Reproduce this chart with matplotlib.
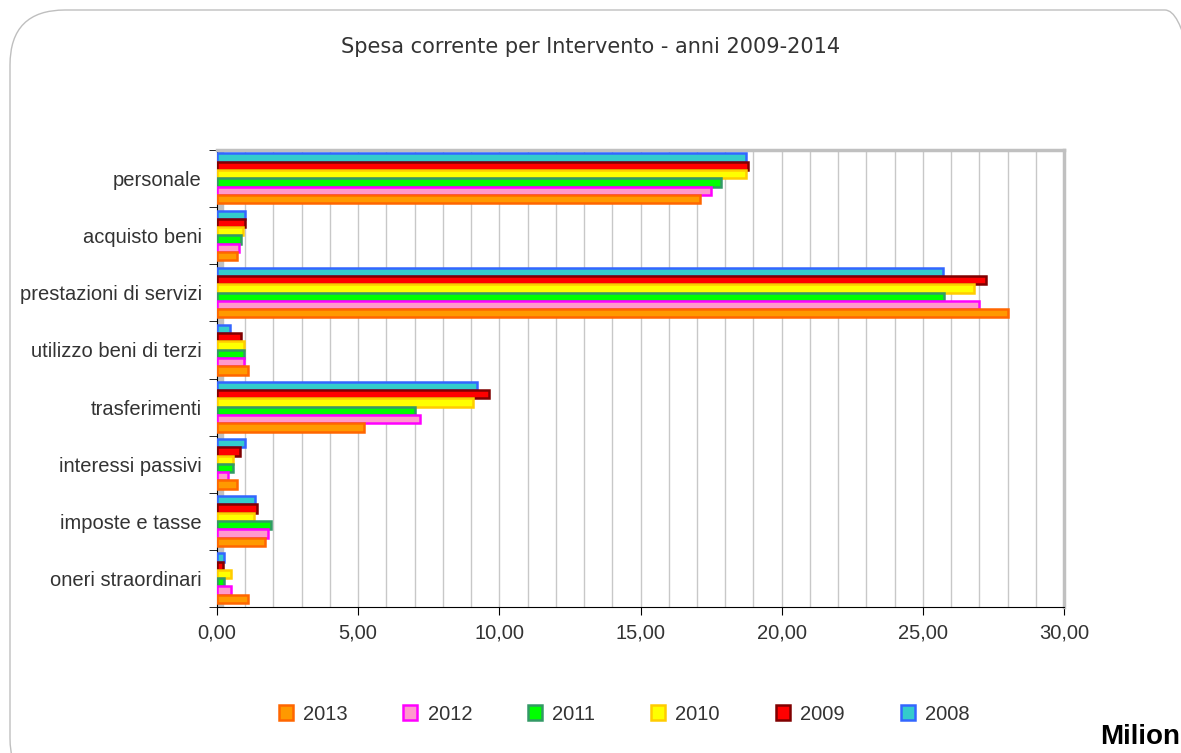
import numpy as np
import matplotlib.pyplot as plt
from matplotlib.patches import Patch, FancyBboxPatch
from matplotlib.ticker import FuncFormatter, MultipleLocator

plt.rcParams['font.family'] = ['Liberation Sans', 'DejaVu Sans']

# Dati (milioni di euro)
categorie = ['personale', 'acquisto beni', 'prestazioni di servizi',
             'utilizzo beni di terzi', 'trasferimenti', 'interessi passivi',
             'imposte e tasse', 'oneri straordinari']
anni = ['2008', '2009', '2010', '2011', '2012', '2013']

v2008 = [18.75, 1.00, 25.70, 0.45, 9.20, 1.00, 1.35, 0.25]
v2009 = [18.80, 1.00, 27.25, 0.85, 9.65, 0.80, 1.42, 0.22]
v2010 = [18.75, 0.92, 26.80, 0.95, 9.05, 0.57, 1.30, 0.50]
v2011 = [17.85, 0.85, 25.75, 0.95, 7.00, 0.57, 1.90, 0.25]
v2012 = [17.50, 0.78, 27.00, 0.95, 7.20, 0.40, 1.80, 0.48]
v2013 = [17.10, 0.72, 28.00, 1.10, 5.20, 0.70, 1.70, 1.10]

serie = [v2008, v2009, v2010, v2011, v2012, v2013]
facce = ['#33CCCC', '#FF0000', '#FFFF00', '#00FF00', '#FF99CC', '#FF9900']
bordi = ['#3366FF', '#800000', '#FFCC00', '#339966', '#FF00FF', '#FF6600']
grigio = '#333333'

fig = plt.figure(figsize=(11.81, 7.53), dpi=100)

# Cornice arrotondata (coordinate in pixel)
cornice = FancyBboxPatch((10, -40), 1210, 783,
                         boxstyle='round,pad=0,rounding_size=55',
                         transform=None, facecolor='none',
                         edgecolor='#BFBFBF', linewidth=1.0, zorder=-5)
fig.patches.append(cornice)

ax = fig.add_axes([217 / 1181, 1 - 607 / 753, 847 / 1181, 457 / 753])
ax.set_facecolor('none')

h = 0.145
y = np.arange(len(categorie))
for j, vals in enumerate(serie):
    pos = y - 0.44 + h / 2 + j * h
    ax.barh(pos, vals, height=h, color=facce[j], edgecolor=bordi[j],
            linewidth=1.8, zorder=3)

ax.set_xlim(0, 30)
ax.set_ylim(len(categorie) - 0.5, -0.5)

# Parete laterale grigia
ax.axvspan(0, 0.2, color='#C0C0C0', zorder=1)

ax.xaxis.set_major_locator(MultipleLocator(5))
ax.xaxis.set_minor_locator(MultipleLocator(1))
ax.xaxis.set_major_formatter(FuncFormatter(lambda v, p: f'{v:.2f}'.replace('.', ',')))
ax.grid(axis='x', which='both', color='#C8C8C8', linewidth=1.0, zorder=0)
ax.tick_params(axis='x', which='minor', length=0)
ax.tick_params(axis='x', which='major', length=6, labelsize=14.5, pad=6,
               labelcolor=grigio)

ax.set_yticks(y)
ax.set_yticklabels(categorie)
ax.set_yticks(np.arange(-0.5, len(categorie)), minor=True)
ax.tick_params(axis='y', which='major', length=0, labelsize=14.5, pad=11,
               labelcolor=grigio)
ax.tick_params(axis='y', which='minor', length=6)

for lato in ['top', 'right']:
    ax.spines[lato].set_color('#C0C0C0')
    ax.spines[lato].set_linewidth(2.5)
ax.spines['left'].set_color('black')
ax.spines['bottom'].set_color('black')

fig.text(0.5, 1 - 47 / 753, 'Spesa corrente per Intervento - anni 2009-2014',
         ha='center', va='center', fontsize=15, color=grigio,
         family=['DejaVu Sans'])

# Legenda (dal 2013 al 2008)
maniglie = [Patch(facecolor=facce[j], edgecolor=bordi[j], linewidth=1.8)
            for j in range(5, -1, -1)]
fig.legend(maniglie, anni[::-1], loc='center',
           bbox_to_anchor=(624 / 1181, 1 - 714 / 753), ncol=6, frameon=False,
           fontsize=14.5, handlelength=0.7, handleheight=0.7,
           handletextpad=0.5, columnspacing=2.78, labelcolor=grigio)

fig.text(1100 / 1181, 1 - 737 / 753, 'Milioni', ha='left', va='center',
         fontsize=20, fontweight='bold')

fig.savefig('out.png', dpi=100)
